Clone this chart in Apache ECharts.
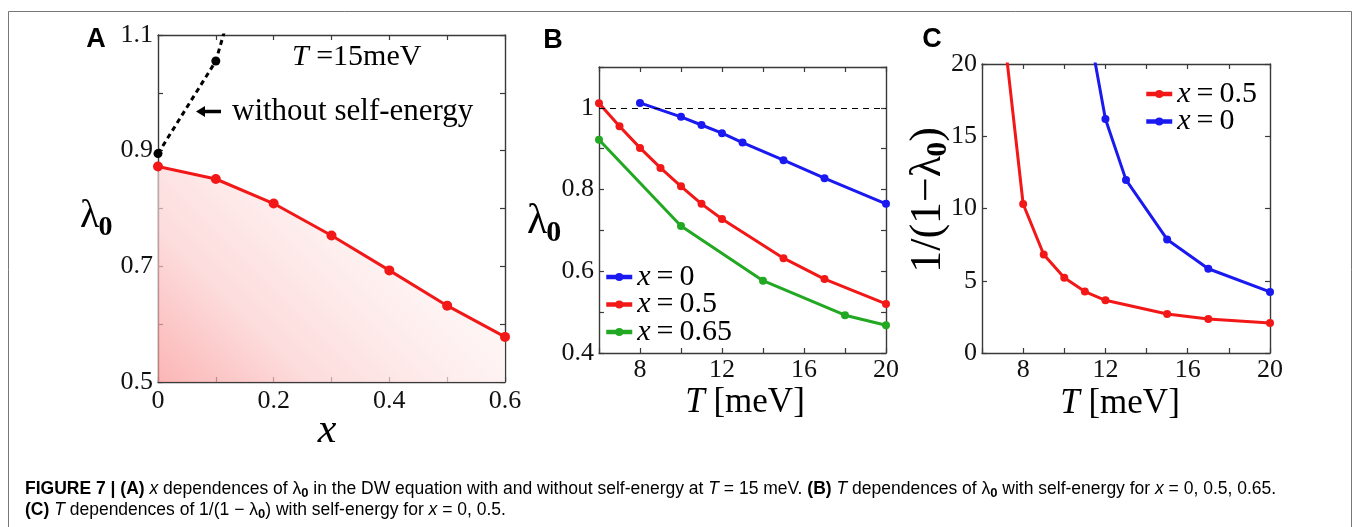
<!DOCTYPE html>
<html>
<head>
<meta charset="utf-8">
<script src="https://cdn.jsdelivr.net/npm/echarts@6/dist/echarts.min.js"></script>
<style>
  html, body { margin: 0; padding: 0; background: #ffffff; }
  #chart { width: 1354px; height: 527px; }
</style>
</head>
<body>
<div id="chart"></div>
<script>
// ---- Panel A: lambda_0 versus x at T = 15 meV ----
const aX = [0, 0.1, 0.2, 0.3, 0.4, 0.5, 0.6];
const aWithSE = [0.8725, 0.851, 0.8086, 0.7533, 0.693, 0.632, 0.578];
const aNoSEx = [0, 0.1, 0.2];
const aNoSE = [0.895, 1.055, 1.40];

// ---- Panel B: lambda_0 versus T ----
const bT0 = [8, 10, 11, 12, 13, 15, 17, 20];
const bL0 = [1.012, 0.978, 0.958, 0.938, 0.915, 0.872, 0.828, 0.765];
const bT05 = [6, 7, 8, 9, 10, 11, 12, 15, 17, 20];
const bL05 = [1.0115, 0.955, 0.902, 0.853, 0.808, 0.765, 0.728, 0.632, 0.581, 0.520];
const bT065 = [6, 10, 14, 18, 20];
const bL065 = [0.922, 0.711, 0.577, 0.4925, 0.468];
const bUnity = 1;

// ---- Panel C: 1/(1 - lambda_0) versus T ----
const cT05 = [7, 8, 9, 10, 11, 12, 15, 17, 20];
const cV05 = [23, 10.31, 6.82, 5.2, 4.25, 3.65, 2.7, 2.36, 2.08];
const cT0 = [11, 12, 13, 15, 17, 20];
const cV0 = [24, 16.2, 11.98, 7.86, 5.83, 4.23];

// ---- Axis ranges and tick labels ----
const aXTicks = ['0', '0.2', '0.4', '0.6'];
const aYTicks = ['0.5', '0.7', '0.9', '1.1'];
const bXTicks = ['8', '12', '16', '20'];
const bYTicks = ['0.4', '0.6', '0.8', '1'];
const cXTicks = ['8', '12', '16', '20'];
const cYTicks = ['0', '5', '10', '15', '20'];

const RED = '#f21818', BLUE = '#1a1af0', GREEN = '#22a822', BLACK = '#000000';
const SERIF = '"Liberation Serif", "DejaVu Serif", serif';
const SANS = '"Liberation Sans", Arial, sans-serif';
const AXIS = '#3a3a3a';

const pairs = (xs, ys) => xs.map((x, i) => [x, ys[i]]);
const fmtNum = v => String(Math.round(v * 1000) / 1000);
const labelFrom = list => v => (list.indexOf(fmtNum(v)) >= 0 ? fmtNum(v) : '');

function axisPair(gridIndex, min, max, interval, labels, isX, margin) {
  const common = {
    type: 'value', gridIndex, min, max, interval,
    splitLine: { show: false },
    axisLine: { show: true, onZero: false, lineStyle: { color: AXIS, width: 1.4 } },
    axisTick: { show: true, inside: true, length: 5, lineStyle: { color: AXIS, width: 1.2 } },
  };
  return [
    Object.assign({}, common, {
      position: isX ? 'bottom' : 'left',
      axisLabel: {
        show: true, margin, formatter: labelFrom(labels), hideOverlap: false,
        showMinLabel: true, showMaxLabel: true,
        fontFamily: SERIF, fontSize: 26, color: '#111'
      }
    }),
    Object.assign({}, common, {
      position: isX ? 'top' : 'right',
      axisLabel: { show: false }
    })
  ];
}

const measureCtx = document.createElement('canvas').getContext('2d');
function textWidth(str, font) { measureCtx.font = font; return measureCtx.measureText(str).width; }

// lambda with bold subscript 0, laid out left to right from (x, midY)
function lambdaLabel(x, midY, big, small, drop) {
  const w = textWidth('λ', big + 'px ' + SERIF);
  return [
    { type: 'text', x, y: midY, style: { text: 'λ', fontFamily: SERIF, fontSize: big, fill: '#000', align: 'left', verticalAlign: 'middle', textAlign: 'left', textVerticalAlign: 'middle' } },
    { type: 'text', x: x + w - 1, y: midY + drop, style: { text: '0', fontFamily: SERIF, fontWeight: 'bold', fontSize: small, fill: '#000', align: 'left', verticalAlign: 'middle', textAlign: 'left', textVerticalAlign: 'middle' } }
  ];
}

// rotated y title of panel C: 1/(1−λ0)
function cTitle(cx, cy) {
  const big = 44, small = 30;
  const p1 = '1/(1−λ', p3 = ')';
  const w1 = textWidth(p1, big + 'px ' + SERIF);
  const w2 = textWidth('0', 'bold ' + small + 'px ' + SERIF);
  const w3 = textWidth(p3, big + 'px ' + SERIF);
  const W = w1 + w2 + w3 - 1;
  const x0 = -W / 2;
  const st = (text, size, bold) => ({ text, fontFamily: SERIF, fontSize: size, fontWeight: bold ? 'bold' : 'normal', fill: '#000', align: 'left', verticalAlign: 'middle', textAlign: 'left', textVerticalAlign: 'middle' });
  return {
    type: 'group', x: cx, y: cy, rotation: Math.PI / 2,
    children: [
      { type: 'text', x: x0, y: 0, style: st(p1, big, false) },
      { type: 'text', x: x0 + w1 - 1, y: 10, style: st('0', small, true) },
      { type: 'text', x: x0 + w1 + w2 - 1, y: 0, style: st(p3, big, false) }
    ]
  };
}

function txt(x, y, text, extra) {
  return {
    type: 'text', x, y,
    style: Object.assign({ text, fontFamily: SERIF, fill: '#000', align: 'center', verticalAlign: 'middle', textAlign: 'center', textVerticalAlign: 'middle' }, extra || {})
  };
}

const legendFormatter = name => '{i|x}{r|\u2009=\u2009' + name.split('=')[1] + '}';
const legendRich = {
  i: { fontFamily: SERIF, fontStyle: 'italic', fontSize: 30, color: '#000' },
  r: { fontFamily: SERIF, fontSize: 30, color: '#000' }
};

const CAP = 17.5;
const capRich = {
  b: { fontFamily: SANS, fontWeight: 'bold', fontSize: CAP, color: '#231f20' },
  n: { fontFamily: SANS, fontSize: CAP, color: '#231f20' },
  i: { fontFamily: SANS, fontStyle: 'italic', fontSize: CAP, color: '#231f20' },
  s: { fontFamily: SANS, fontWeight: 'bold', fontSize: 13, color: '#231f20', padding: [8, 0, 0, 0] }
};

const xA = axisPair(0, 0, 0.6, 0.1, aXTicks, true, 6);
const yA = axisPair(0, 0.5, 1.1, 0.1, aYTicks, false, 5);
const xB = axisPair(1, 6, 20, 2, bXTicks, true, 4);
const yB = axisPair(1, 0.4, 1.1, 0.1, bYTicks, false, 5);
const xC = axisPair(2, 6, 20, 2, cXTicks, true, 4);
const yC = axisPair(2, 0, 20, 5, cYTicks, false, 5);

const option = {
  backgroundColor: '#ffffff',
  animation: false,
  grid: [
    { left: 158, top: 35, width: 347, height: 347 },
    { left: 599, top: 67, width: 287, height: 286 },
    { left: 982, top: 64, width: 288, height: 289 }
  ],
  xAxis: [...xA, ...xB, ...xC],
  yAxis: [...yA, ...yB, ...yC],
  legend: [
    {
      data: ['x=0', 'x=0.5', 'x=0.65'], orient: 'vertical', left: 604, top: 262,
      itemWidth: 26, itemHeight: 10, itemGap: -2.5, padding: 0,
      lineStyle: { width: 4.5 },
      formatter: legendFormatter,
      textStyle: { rich: legendRich },
      selectedMode: false
    },
    {
      data: ['x=0.5', 'x=0'], orient: 'vertical', left: 1144, top: 79,
      itemWidth: 26, itemHeight: 10, itemGap: -2.5, padding: 0,
      lineStyle: { width: 4.5 },
      formatter: legendFormatter,
      textStyle: { rich: legendRich },
      selectedMode: false
    }
  ],
  series: [
    {
      name: 'with self-energy', type: 'line', xAxisIndex: 0, yAxisIndex: 0,
      data: pairs(aX, aWithSE), symbol: 'circle', symbolSize: 10,
      lineStyle: { color: RED, width: 3 }, itemStyle: { color: RED },
      areaStyle: {
        origin: 'start',
        color: new echarts.graphic.LinearGradient(158, 382, 505, 35, [
          { offset: 0, color: 'rgb(250,150,150)' },
          { offset: 0.22, color: 'rgb(252,205,205)' },
          { offset: 0.45, color: 'rgb(254,232,232)' },
          { offset: 0.7, color: 'rgb(255,252,252)' },
          { offset: 1, color: 'rgb(255,255,255)' }
        ], true)
      },
      z: 3
    },
    {
      name: 'without self-energy', type: 'line', xAxisIndex: 0, yAxisIndex: 0,
      data: pairs(aNoSEx, aNoSE), symbol: 'circle', symbolSize: 9,
      lineStyle: { color: BLACK, width: 3, type: [5, 4] }, itemStyle: { color: BLACK },
      z: 3
    },
    {
      name: 'x=0', type: 'line', xAxisIndex: 2, yAxisIndex: 2,
      data: pairs(bT0, bL0), symbol: 'circle', symbolSize: 8,
      lineStyle: { color: BLUE, width: 3 }, itemStyle: { color: BLUE }, z: 3,
      markLine: {
        silent: true, symbol: 'none', label: { show: false },
        lineStyle: { color: '#000', width: 1, type: [6, 5] },
        data: [{ yAxis: bUnity }]
      }
    },
    {
      name: 'x=0.5', type: 'line', xAxisIndex: 2, yAxisIndex: 2,
      data: pairs(bT05, bL05), symbol: 'circle', symbolSize: 8,
      lineStyle: { color: RED, width: 3 }, itemStyle: { color: RED }, z: 3
    },
    {
      name: 'x=0.65', type: 'line', xAxisIndex: 2, yAxisIndex: 2,
      data: pairs(bT065, bL065), symbol: 'circle', symbolSize: 8,
      lineStyle: { color: GREEN, width: 3 }, itemStyle: { color: GREEN }, z: 3
    },
    {
      name: 'x=0.5', type: 'line', xAxisIndex: 4, yAxisIndex: 4,
      data: pairs(cT05, cV05), symbol: 'circle', symbolSize: 8,
      lineStyle: { color: RED, width: 3 }, itemStyle: { color: RED }, z: 3
    },
    {
      name: 'x=0', type: 'line', xAxisIndex: 4, yAxisIndex: 4,
      data: pairs(cT0, cV0), symbol: 'circle', symbolSize: 8,
      lineStyle: { color: BLUE, width: 3 }, itemStyle: { color: BLUE }, z: 3
    }
  ],
  graphic: [
    // outer frame
    { type: 'rect', shape: { x: 8.5, y: 11.5, width: 1343, height: 600 }, style: { fill: 'none', stroke: '#777', lineWidth: 1 }, silent: true },
    // panel letters
    txt(96, 40, 'A', { fontFamily: SANS, fontWeight: 'bold', fontSize: 27 }),
    txt(553, 41, 'B', { fontFamily: SANS, fontWeight: 'bold', fontSize: 27 }),
    txt(932, 40, 'C', { fontFamily: SANS, fontWeight: 'bold', fontSize: 27 }),
    // panel A notes
    txt(292, 57, '{i|T} =15meV', {
      align: 'left', textAlign: 'left', fontSize: 30,
      rich: { i: { fontFamily: SERIF, fontStyle: 'italic', fontSize: 30 } }
    }),
    txt(232, 112, 'without self-energy', { align: 'left', textAlign: 'left', fontSize: 31 }),
    { type: 'line', shape: { x1: 221, y1: 111.5, x2: 203, y2: 111.5 }, style: { stroke: '#000', lineWidth: 3.5 } },
    { type: 'polygon', shape: { points: [[196, 111.5], [205, 106], [205, 117]] }, style: { fill: '#000' } },
    // axis titles
    txt(327, 431, 'x', { fontStyle: 'italic', fontSize: 42 }),
    txt(745, 403, '{i|T} [meV]', { fontSize: 35, rich: { i: { fontFamily: SERIF, fontStyle: 'italic', fontSize: 35 } } }),
    txt(1120, 404, '{i|T} [meV]', { fontSize: 35, rich: { i: { fontFamily: SERIF, fontStyle: 'italic', fontSize: 35 } } }),
    ...lambdaLabel(80, 216, 40, 28, 12),
    ...lambdaLabel(527, 222, 42, 30, 11),
    cTitle(928, 200),
    // caption
    txt(25, 489, '{b|FIGURE 7 | (A)} {i|x}{n| dependences of λ}{s|0}{n| in the DW equation with and without self-energy at }{i|T}{n| = 15 meV. }{b|(B)} {i|T}{n| dependences of λ}{s|0}{n| with self-energy for }{i|x}{n| = 0, 0.5, 0.65.}', {
      align: 'left', textAlign: 'left', fontFamily: SANS, fontSize: CAP, rich: capRich
    }),
    txt(25, 510, '{b|(C)} {i|T}{n| dependences of 1/(1 − λ}{s|0}{n|) with self-energy for }{i|x}{n| = 0, 0.5.}', {
      align: 'left', textAlign: 'left', fontFamily: SANS, fontSize: CAP, rich: capRich
    })
  ]
};

const chart = echarts.init(document.getElementById('chart'), null, { renderer: 'canvas' });
chart.setOption(option);
</script>
</body>
</html>
